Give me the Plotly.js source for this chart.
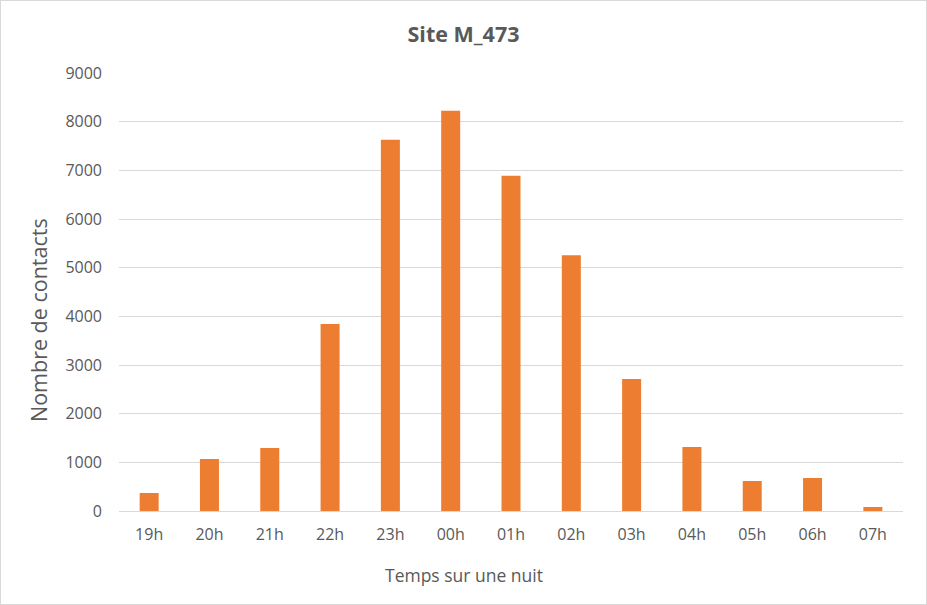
<!DOCTYPE html>
<html>
<head>
<meta charset="utf-8">
<script src="https://cdn.plot.ly/plotly-3.0.1.min.js"></script>
<style>
  body { margin: 0; background: #fff; }
  #chart { width: 925px; height: 603px; border: 1px solid #d9d9d9; }
</style>
</head>
<body>
<div id="chart"></div>
<script>
let hours = ['19h', '20h', '21h', '22h', '23h', '00h', '01h', '02h', '03h', '04h', '05h', '06h', '07h']
let contacts = [370, 1068, 1294, 3842, 7630, 8226, 6890, 5253, 2712, 1314, 616, 678, 82]

let font_family = '"Open Sans", sans-serif'
let grey = '#595959'

let bars = {
  x: hours,
  y: contacts,
  type: 'bar',
  marker: { color: '#ED7D31' },
  hoverinfo: 'x+y'
}

// axis titles as annotations so they sit where the reference puts them
let x_title = {
  text: 'Temps sur une nuit',
  xref: 'paper', yref: 'paper',
  x: 0, xshift: 345, xanchor: 'center',
  y: 0, yshift: -64, yanchor: 'middle',
  showarrow: false,
  font: { size: 17.5, color: grey }
}
let y_title = {
  text: 'Nombre de contacts',
  xref: 'paper', yref: 'paper',
  x: 0, xshift: -81, xanchor: 'center',
  y: 0.436, yanchor: 'middle',
  textangle: -90,
  showarrow: false,
  font: { size: 21.5, color: grey }
}

let layout = {
  width: 925,
  height: 603,
  margin: { l: 118, r: 23, t: 72, b: 93 },
  paper_bgcolor: '#fff',
  plot_bgcolor: '#fff',
  bargap: 0.685,
  showlegend: false,
  font: { family: font_family, color: grey },
  title: {
    text: '<b>Site M_473</b>',
    font: { size: 21.5, color: grey },
    x: 0.5,
    xanchor: 'center',
    y: 0.945,
    yanchor: 'middle'
  },
  xaxis: {
    type: 'category',
    showgrid: false,
    showline: false,
    ticks: '',
    ticklabelstandoff: 12,
    tickfont: { size: 16, color: grey }
  },
  yaxis: {
    range: [0, 9000],
    dtick: 1000,
    showgrid: true,
    gridcolor: '#d9d9d9',
    zeroline: true,
    zerolinecolor: '#d9d9d9',
    zerolinewidth: 1,
    showline: false,
    ticks: '',
    ticklabelstandoff: 16,
    tickfont: { size: 16, color: grey }
  },
  annotations: [x_title, y_title]
}

Plotly.newPlot('chart', [bars], layout, { displayModeBar: false, staticPlot: true })
</script>
</body>
</html>
